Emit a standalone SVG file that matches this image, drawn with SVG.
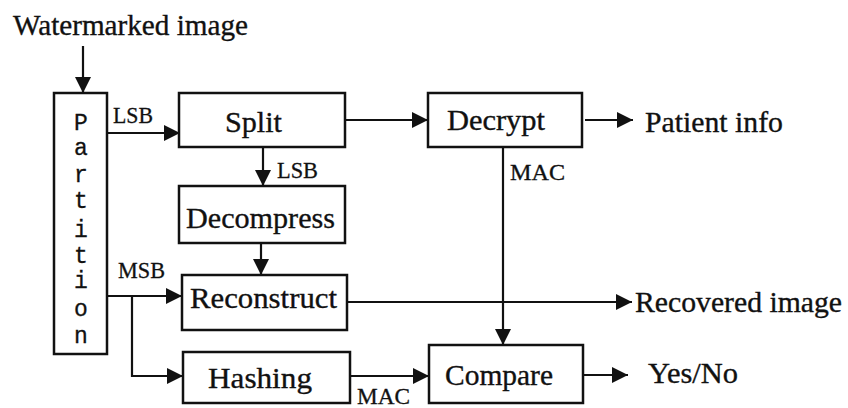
<svg xmlns="http://www.w3.org/2000/svg" width="848" height="408" viewBox="0 0 848 408">
  <style>
    .box { fill: #fff; stroke: #111; stroke-width: 2.5; }
    .wire { fill: none; stroke: #111; stroke-width: 2.2; }
    .t { font-family: "Liberation Serif", "Times New Roman", serif; font-size: 30px; fill: #111; stroke: #111; stroke-width: 0.35; }
    .s { font-family: "Liberation Serif", "Times New Roman", serif; font-size: 23px; fill: #111; stroke: #111; stroke-width: 0.3; }
    .m { font-family: "Liberation Mono", "Courier New", monospace; font-size: 23px; fill: #111; stroke: #111; stroke-width: 0.3; text-anchor: middle; }
  </style>
  <defs>
    <marker id="arrow" markerUnits="userSpaceOnUse" markerWidth="16" markerHeight="16" refX="16" refY="8" orient="auto">
      <path d="M0,0 L16,8 L0,16 z" fill="#111"/>
    </marker>
  </defs>

  <rect width="848" height="408" fill="#fff"/>

  <!-- free labels -->
  <text class="t" x="13" y="35" textLength="235" lengthAdjust="spacingAndGlyphs">Watermarked image</text>
  <text class="t" x="645" y="132" textLength="138" lengthAdjust="spacingAndGlyphs">Patient info</text>
  <text class="t" x="635" y="312" textLength="207" lengthAdjust="spacingAndGlyphs">Recovered image</text>
  <text class="t" x="648" y="383" textLength="90" lengthAdjust="spacingAndGlyphs">Yes/No</text>

  <!-- connectors -->
  <g id="connectors">
    <line class="wire" x1="83" y1="46" x2="83" y2="93" marker-end="url(#arrow)"/>
    <line class="wire" x1="107" y1="133" x2="180" y2="133" marker-end="url(#arrow)"/>
    <line class="wire" x1="345" y1="120" x2="428" y2="120" marker-end="url(#arrow)"/>
    <line class="wire" x1="585" y1="120" x2="633" y2="120" marker-end="url(#arrow)"/>
    <line class="wire" x1="263" y1="147" x2="263" y2="186" marker-end="url(#arrow)"/>
    <line class="wire" x1="261" y1="243" x2="261" y2="275" marker-end="url(#arrow)"/>
    <line class="wire" x1="107" y1="296" x2="182" y2="296" marker-end="url(#arrow)"/>
    <polyline class="wire" points="132,296 132,376 183,376" marker-end="url(#arrow)"/>
    <line class="wire" x1="347" y1="302" x2="632" y2="302" marker-end="url(#arrow)"/>
    <line class="wire" x1="503" y1="147" x2="503" y2="345" marker-end="url(#arrow)"/>
    <line class="wire" x1="350" y1="376" x2="429" y2="376" marker-end="url(#arrow)"/>
    <line class="wire" x1="583" y1="375" x2="628" y2="375" marker-end="url(#arrow)"/>
    <!-- connector labels -->
    <text class="s" x="113" y="123" textLength="40" lengthAdjust="spacingAndGlyphs">LSB</text>
    <text class="s" x="277" y="178" textLength="41" lengthAdjust="spacingAndGlyphs">LSB</text>
    <text class="s" x="510" y="180" textLength="55" lengthAdjust="spacingAndGlyphs">MAC</text>
    <text class="s" x="118" y="278" textLength="47" lengthAdjust="spacingAndGlyphs">MSB</text>
    <text class="s" x="357" y="404" textLength="53" lengthAdjust="spacingAndGlyphs">MAC</text>
  </g>

  <g id="partition">
    <rect class="box" x="54" y="93" width="53" height="261"/>
    <text class="m" x="81" y="130">P</text>
    <text class="m" x="81" y="155">a</text>
    <text class="m" x="81" y="182">r</text>
    <text class="m" x="81" y="208">t</text>
    <text class="m" x="81" y="237">i</text>
    <text class="m" x="81" y="263">t</text>
    <text class="m" x="81" y="288">i</text>
    <text class="m" x="81" y="316">o</text>
    <text class="m" x="81" y="343">n</text>
  </g>

  <g id="split">
    <rect class="box" x="179" y="93" width="166" height="54"/>
    <text class="t" x="225" y="132" textLength="57" lengthAdjust="spacingAndGlyphs">Split</text>
  </g>

  <g id="decrypt">
    <rect class="box" x="428" y="93" width="154" height="54"/>
    <text class="t" x="447" y="130" textLength="98" lengthAdjust="spacingAndGlyphs">Decrypt</text>
  </g>

  <g id="decompress">
    <rect class="box" x="179" y="186" width="166" height="57"/>
    <text class="t" x="186" y="228" textLength="149" lengthAdjust="spacingAndGlyphs">Decompress</text>
  </g>

  <g id="reconstruct">
    <rect class="box" x="182" y="275" width="165" height="55"/>
    <text class="t" x="190" y="308" textLength="147" lengthAdjust="spacingAndGlyphs">Reconstruct</text>
  </g>

  <g id="hashing">
    <rect class="box" x="183" y="352" width="167" height="51"/>
    <text class="t" x="208" y="388" textLength="104" lengthAdjust="spacingAndGlyphs">Hashing</text>
  </g>

  <g id="compare">
    <rect class="box" x="429" y="345" width="154" height="58"/>
    <text class="t" x="445" y="385" textLength="108" lengthAdjust="spacingAndGlyphs">Compare</text>
  </g>
</svg>
